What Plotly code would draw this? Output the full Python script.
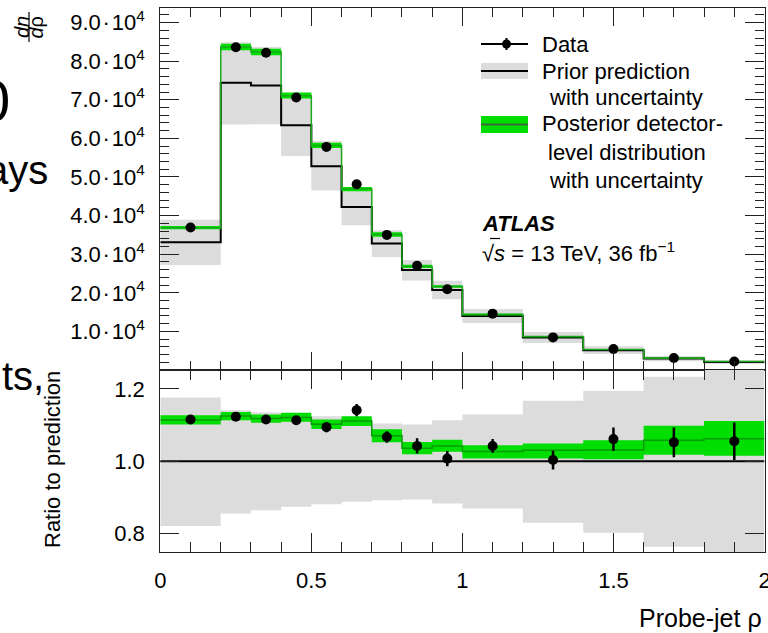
import plotly.graph_objects as go

# bin edges and centres in probe-jet rho
EDGES = [0, 0.2, 0.3, 0.4, 0.5, 0.6, 0.7, 0.8, 0.9, 1.0, 1.2, 1.4, 1.6, 1.8, 2.0]
CENTERS = [0.1, 0.25, 0.35, 0.45, 0.55, 0.65, 0.75, 0.85, 0.95, 1.1, 1.3, 1.5, 1.7, 1.9]

# upper panel: dn/drho
DATA_COUNTS = [36900, 83600, 82200, 70600, 57800, 48100, 35000, 27000, 20900, 14600, 8450, 5450, 3100, 2200]
PRIOR_COUNTS = [33100, 74400, 73700, 63400, 52800, 42200, 32800, 25900, 20750, 14000, 8420, 5140, 2950, 2080]

# lower panel: ratio to prior prediction
RATIO_DATA = [1.115, 1.123, 1.115, 1.113, 1.094, 1.141, 1.067, 1.042, 1.007, 1.042, 1.003, 1.061, 1.052, 1.055]
RATIO_DATA_ERR = [0.008, 0.008, 0.008, 0.009, 0.014, 0.017, 0.016, 0.021, 0.021, 0.019, 0.026, 0.032, 0.041, 0.052]
POST_RATIO = [1.114, 1.125, 1.118, 1.121, 1.102, 1.111, 1.070, 1.036, 1.042, 1.027, 1.030, 1.031, 1.058, 1.062]
POST_RATIO_LO = [1.101, 1.113, 1.106, 1.109, 1.089, 1.097, 1.052, 1.019, 1.026, 1.007, 1.007, 1.005, 1.018, 1.015]
POST_RATIO_HI = [1.127, 1.136, 1.129, 1.134, 1.115, 1.124, 1.088, 1.053, 1.059, 1.044, 1.049, 1.058, 1.098, 1.111]
PRIOR_RATIO_LO = [0.821, 0.855, 0.864, 0.874, 0.881, 0.888, 0.892, 0.894, 0.883, 0.869, 0.830, 0.802, 0.763, 0.740]
PRIOR_RATIO_HI = [1.176, 1.141, 1.135, 1.130, 1.124, 1.121, 1.104, 1.101, 1.113, 1.129, 1.167, 1.194, 1.233, 1.260]

Y_TICKS = [10000, 20000, 30000, 40000, 50000, 60000, 70000, 80000, 90000]
Y_TICK_TEXT = [f"{v / 1e4:.1f}\u200a·\u200a10<sup>4</sup>" for v in Y_TICKS]
X_TICKS = [0, 0.5, 1, 1.5, 2]
X_TICK_TEXT = ["0", "0.5", "1", "1.5", "2"]
R_TICKS = [0.8, 1.0, 1.2]
R_TICK_TEXT = ["0.8", "1.0", "1.2"]

GRAY = "#dcdcdc"
GREEN = "#00dd00"
DKGREEN = "#089a08"
FONT = "Liberation Sans, Arial, sans-serif"
W, H = 768, 633


def px(x):
    return x / W


def py(y):
    return 1 - y / H


def step(vals):
    return list(vals) + [vals[-1]]


fig = go.Figure()


def add_band(lo, hi, color, xa, ya):
    fig.add_trace(go.Scatter(x=EDGES, y=step(lo), mode="lines", line_shape="hv",
                             line_width=0, xaxis=xa, yaxis=ya, hoverinfo="skip"))
    fig.add_trace(go.Scatter(x=EDGES, y=step(hi), mode="lines", line_shape="hv",
                             line_width=0, fill="tonexty", fillcolor=color,
                             xaxis=xa, yaxis=ya, hoverinfo="skip"))


def add_step(vals, color, width, xa, ya):
    fig.add_trace(go.Scatter(x=EDGES, y=step(vals), mode="lines", line_shape="hv",
                             line=dict(color=color, width=width),
                             xaxis=xa, yaxis=ya, hoverinfo="skip"))


# upper panel
prior_lo = [p * r for p, r in zip(PRIOR_COUNTS, PRIOR_RATIO_LO)]
prior_hi = [p * r for p, r in zip(PRIOR_COUNTS, PRIOR_RATIO_HI)]
post = [p * r for p, r in zip(PRIOR_COUNTS, POST_RATIO)]
post_lo = [p * r for p, r in zip(PRIOR_COUNTS, POST_RATIO_LO)]
post_hi = [p * r for p, r in zip(PRIOR_COUNTS, POST_RATIO_HI)]
add_band(prior_lo, prior_hi, GRAY, "x", "y")
add_step(PRIOR_COUNTS, "black", 2, "x", "y")
add_band(post_lo, post_hi, GREEN, "x", "y")
add_step(post, "#1aa81a", 1.5, "x", "y")
fig.add_trace(go.Scatter(x=CENTERS, y=DATA_COUNTS, mode="markers",
                         marker=dict(color="black", size=10), xaxis="x", yaxis="y"))

# lower panel
add_band(PRIOR_RATIO_LO, PRIOR_RATIO_HI, GRAY, "x2", "y2")
add_band(POST_RATIO_LO, POST_RATIO_HI, GREEN, "x2", "y2")
add_step(POST_RATIO, DKGREEN, 1.5, "x2", "y2")
fig.add_trace(go.Scatter(x=[EDGES[0], EDGES[-1]], y=[1.0, 1.0], mode="lines",
                         line=dict(color="black", width=2), xaxis="x2", yaxis="y2"))
fig.add_trace(go.Scatter(x=CENTERS, y=RATIO_DATA, mode="markers",
                         marker=dict(color="black", size=10),
                         error_y=dict(type="data", array=RATIO_DATA_ERR, color="black",
                                      thickness=2.5, width=0),
                         xaxis="x2", yaxis="y2"))

frame = dict(showline=True, linecolor="#222", linewidth=1.2, mirror="allticks",
             ticks="inside", tickcolor="#222", tickwidth=1.2, showgrid=False,
             zeroline=False, automargin=False, ticklabeloverflow="allow",
             tickfont=dict(family=FONT, size=22, color="black"))
x_dom = [px(160.3), px(764.5)]
fig.update_layout(
    width=W, height=H, showlegend=False,
    margin=dict(l=0, r=0, t=0, b=0, autoexpand=False),
    paper_bgcolor="white", plot_bgcolor="rgba(0,0,0,0)",
    xaxis=dict(frame, domain=x_dom, range=[0, 2], anchor="y", tickmode="array",
               tickvals=X_TICKS, showticklabels=False, ticklen=18,
               minor=dict(dtick=0.1, ticklen=9, ticks="inside", tickcolor="#222")),
    yaxis=dict(frame, domain=[py(370), py(8.3)], range=[0, 93700], anchor="x",
               tickvals=Y_TICKS, ticktext=Y_TICK_TEXT, ticklen=19, ticklabelstandoff=10,
               minor=dict(dtick=2000, ticklen=9, ticks="inside", tickcolor="#222")),
    xaxis2=dict(frame, domain=x_dom, range=[0, 2], anchor="y2",
                tickvals=X_TICKS, ticktext=X_TICK_TEXT, ticklen=19, ticklabelstandoff=8,
                minor=dict(dtick=0.1, ticklen=10, ticks="inside", tickcolor="#222")),
    yaxis2=dict(frame, domain=[py(552.3), py(370)], range=[0.748, 1.252], anchor="x2",
                tickvals=R_TICKS, ticktext=R_TICK_TEXT, ticklen=19, ticklabelstandoff=10),
)

shapes = []
ann = []


def text(x, y, s, size=22, anchor="left", angle=0, **kw):
    ann.append(dict(x=px(x), y=py(y), xref="paper", yref="paper", text=s, showarrow=False,
                    xanchor=anchor, yanchor="middle", textangle=angle,
                    font=dict(family=FONT, size=size, color="black"), **kw))


def pline(x0, y0, x1, y1, color="black", width=2):
    shapes.append(dict(type="line", xref="paper", yref="paper", x0=px(x0), y0=py(y0),
                       x1=px(x1), y1=py(y1), line=dict(color=color, width=width)))


def prect(x0, y0, x1, y1, color):
    shapes.append(dict(type="rect", xref="paper", yref="paper", x0=px(x0), y0=py(y0),
                       x1=px(x1), y1=py(y1), fillcolor=color, line_width=0))


# legend
pline(481, 44, 528, 44)
pline(506.5, 38, 506.5, 50)
shapes.append(dict(type="circle", xref="paper", yref="paper", x0=px(502), x1=px(511),
                   y0=py(39.5), y1=py(48.5), fillcolor="black", line_width=0))
prect(481, 63, 528, 79, GRAY)
pline(481, 71, 528, 71)
prect(481, 116, 528, 133, GREEN)
pline(481, 124.5, 528, 124.5, color="#3a6a3a")
text(540, 44, "Data")
text(540, 72, "Prior prediction")
text(547, 97, "with uncertainty")
text(540, 124, "Posterior detector-")
text(546, 152, "level distribution")
text(547, 180, "with uncertainty")
text(480, 224, "<b><i>ATLAS</i></b>")
text(480, 252, "√<i>s</i> = 13 TeV, 36 fb<sup>−1</sup>")
pline(490, 238.5, 500, 238.5, width=1.2)

# axis titles
text(52, 460, "Ratio to prediction", anchor="center", angle=-90)
text(764, 618, "Probe-jet ρ", size=25, anchor="right")
text(22, 27, "<i>dn</i>", size=20, anchor="center", angle=-90)
text(35.5, 27, "<i>d</i>ρ", size=20, anchor="center", angle=-90)
pline(29, 12, 29, 42, width=1.2)

# slide text peeking in at the left edge
text(12, 100, "0", size=58, anchor="right")
text(50, 170, "ays", size=40, anchor="right")
text(46, 376, "ts,", size=40, anchor="right")

fig.update_layout(shapes=shapes, annotations=ann)
# drop the browser's default 8px page margin so the figure sits at the window origin
fig.write_html("out.html", config={"displayModeBar": False},
               post_script="document.body.style.margin='0px';")
